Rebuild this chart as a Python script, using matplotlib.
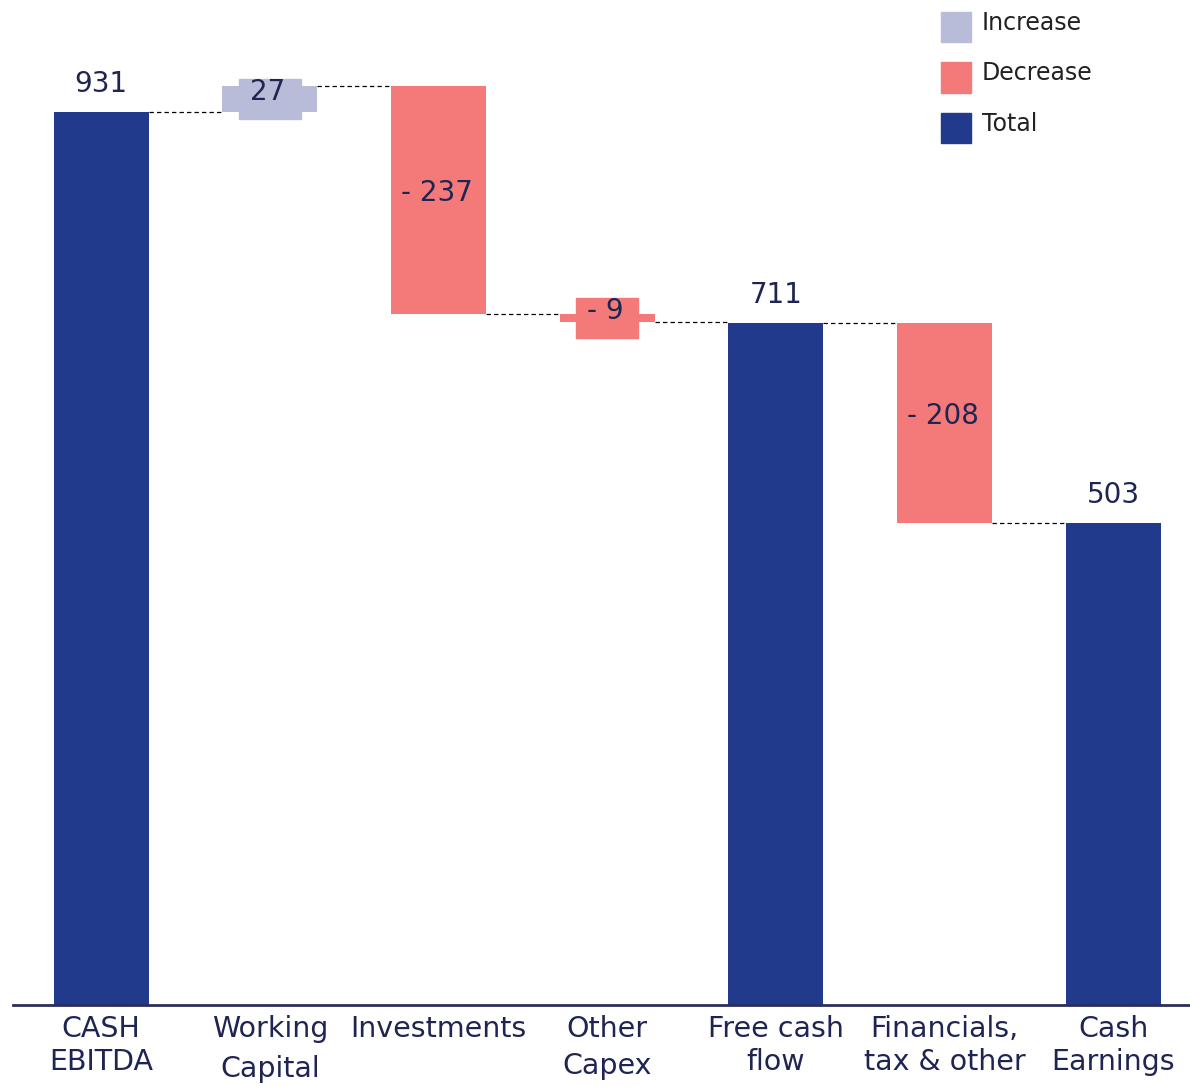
import matplotlib.pyplot as plt
from matplotlib.patches import Rectangle
from matplotlib.transforms import ScaledTranslation

# waterfall data
categories = ['CASH\nEBITDA', 'Working\nCapital', 'Investments', 'Other\nCapex',
              'Free cash\nflow', 'Financials,\ntax & other', 'Cash\nEarnings']
values = [931, 27, -237, -9, 711, -208, 503]
kinds = ['total', 'increase', 'decrease', 'decrease', 'total', 'decrease', 'total']
labels = ['931', '27', '- 237', '- 9', '711', '- 208', '503']
legend_names = ['Increase', 'Decrease', 'Total']

colors = {'increase': '#B8BCD9', 'decrease': '#F47A7A', 'total': '#213A8C'}
text_color = '#1F2552'

plt.rcParams['font.family'] = ['DejaVu Sans']

W, H = 1190, 1086
fig = plt.figure(figsize=(W / 100, H / 100), dpi=100)
ax = fig.add_axes([13 / W, 81 / H, 1 - 13 / W, 1 - 81 / H])

width = 0.563
bottoms, tops, ends = [], [], []
level = 0
for v, k in zip(values, kinds):
    if k == 'total':
        bottoms.append(0)
        tops.append(v)
        level = v
    else:
        start = level
        level = level + v
        bottoms.append(min(start, level))
        tops.append(max(start, level))
    ends.append(level)

x = list(range(len(values)))
for i in x:
    ax.bar(i, tops[i] - bottoms[i], bottom=bottoms[i], width=width,
           color=colors[kinds[i]], zorder=2)

# connector lines
for i in x[:-1]:
    ax.plot([i + width / 2, i + 1 - width / 2], [ends[i], ends[i]],
            ls=(0, (3.5, 2.5)), color='black', lw=0.9, zorder=1)

# value labels
for i in x:
    if kinds[i] == 'total':
        ax.annotate(labels[i], (i, tops[i]), xytext=(0, 14), textcoords='offset pixels',
                    ha='center', va='bottom', fontsize=20, color=text_color)
    else:
        mid = (tops[i] + bottoms[i]) / 2
        # label background box (bar colour), centred on the bar, size in inches
        bw = 0.62 if len(labels[i]) < 4 else 0.8
        box = Rectangle((-bw / 2, -0.2), bw, 0.4, color=colors[kinds[i]], zorder=3,
                        transform=fig.dpi_scale_trans + ScaledTranslation(i, mid, ax.transData))
        ax.add_patch(box)
        ax.annotate(labels[i], (i, mid), xytext=(-2, 7), textcoords='offset pixels',
                    ha='center', va='center', fontsize=20, color=text_color, zorder=4)

ax.set_xlim(-0.522, 6.454)
ax.set_ylim(0, 1048)
ax.set_xticks(x)
ax.set_xticklabels(categories, fontsize=20.5, color=text_color)
for lab, ls in zip(ax.get_xticklabels(), [1.23, 1.58, 1.23, 1.42, 1.23, 1.23, 1.23]):
    lab.set_linespacing(ls)
ax.tick_params(axis='x', length=0, pad=7)
ax.set_yticks([])
for s in ['top', 'right', 'left']:
    ax.spines[s].set_visible(False)
ax.spines['bottom'].set_color('#2A2F5A')
ax.spines['bottom'].set_linewidth(2)

# legend drawn by hand (squares + text)
for j, (name, k) in enumerate(zip(legend_names, ['increase', 'decrease', 'total'])):
    top_px = 12 + j * 50.5
    fig.add_artist(Rectangle((941 / W, 1 - (top_px + 30) / H), 30 / W, 30 / H,
                             transform=fig.transFigure, color=colors[k]))
    fig.text(982 / W, 1 - (top_px + 17.5) / H, name, fontsize=17,
             color='#222222', va='baseline', ha='left')

fig.savefig('out.png', dpi=100)
